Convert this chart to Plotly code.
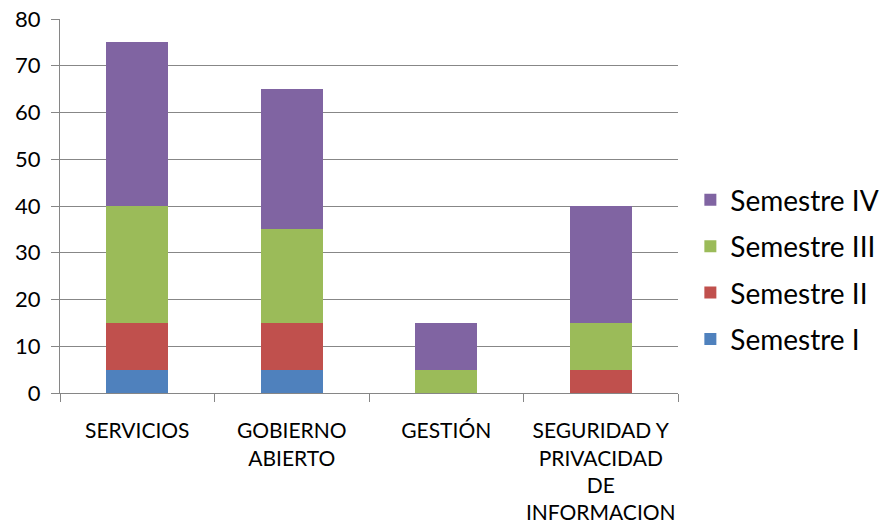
import plotly.graph_objects as go

categories = ["SERVICIOS", "GOBIERNO<br>ABIERTO", "GESTIÓN", "SEGURIDAD Y<br>PRIVACIDAD<br>DE<br>INFORMACION"]
sem1 = [5, 5, 0, 0]
sem2 = [10, 10, 0, 5]
sem3 = [25, 20, 5, 10]
sem4 = [35, 30, 10, 25]
series_names = ["Semestre I", "Semestre II", "Semestre III", "Semestre IV"]
colors = ["#4F81BD", "#C0504D", "#9BBB59", "#8064A2"]
y_ticks = [0, 10, 20, 30, 40, 50, 60, 70, 80]

fig = go.Figure()
for i, (name, vals, c) in enumerate(zip(series_names, [sem1, sem2, sem3, sem4], colors)):
    fig.add_trace(go.Bar(x=categories, y=vals, name=name, legendgroup=name, legendrank=10 - i,
                         marker=dict(color=c, line=dict(width=0)), width=0.4))

font = "Lato, 'Open Sans', sans-serif"
fig.update_layout(
    barmode="stack",
    width=889, height=524,
    margin=dict(l=52, r=219, t=11, b=139, autoexpand=False),
    paper_bgcolor="white", plot_bgcolor="white",
    font=dict(family=font, color="black"),
    legend=dict(x=1.02, y=0.33, xanchor="left", yanchor="middle", traceorder="grouped",
                font=dict(size=28, family=font), itemwidth=30, tracegroupgap=7),
    xaxis=dict(showline=True, linecolor="#868686", linewidth=1, ticks="outside", tickson="boundaries",
               ticklen=8, tickcolor="#868686", tickfont=dict(size=21), ticklabelstandoff=19,
               tickangle=0, automargin=False, ticklabeloverflow="allow"),
    yaxis=dict(range=[0, 80], tickvals=y_ticks, showgrid=True, gridcolor="#878787", gridwidth=1,
               showline=True, linecolor="#868686", ticks="outside", ticklen=8, tickcolor="#868686",
               tickfont=dict(size=22), zeroline=False, ticklabelstandoff=6, automargin=False,
               ticklabeloverflow="allow"),
)
fig.write_html("out.html")
